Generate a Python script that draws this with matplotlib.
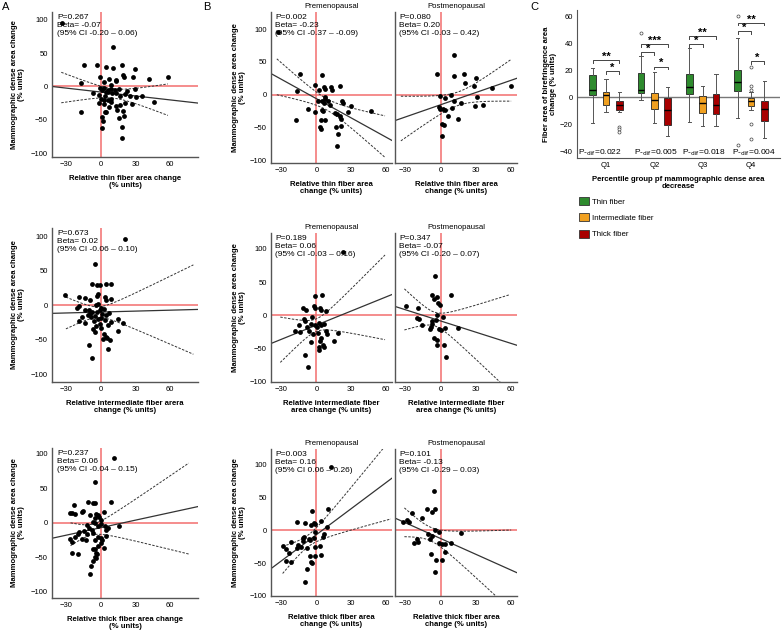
import numpy as np
import matplotlib
matplotlib.use('Agg')
import matplotlib.pyplot as plt
from matplotlib.patches import Patch

plt.rcParams['font.family'] = ['Liberation Sans', 'DejaVu Sans']

# ---- panel A : all women (x, y)
a_thin = [(-33, 96), (-14.3, 32), (-2.9, 32), (4.3, 30), (10.9, 28), (18.6, 32), (30, 26), (11, 60),
          (19, 18), (20, 14), (7, 12), (12.9, 10), (13.4, 8), (-0.6, 15), (2.9, 7), (28, 14), (42, 11),
          (58, 14), (-16.6, 6), (-7, -10), (1.4, -6), (6.6, -5), (8.6, 1.5), (6.3, -9), (10, -10),
          (12.9, -10), (17, -14), (21.4, -11), (25.7, -15), (30, -3.5), (30.9, -16), (35.7, -14),
          (46.3, -24), (-1.4, -13), (0, -19), (2.9, -20), (6.3, -21), (8.6, -19), (-1.4, -25),
          (2.9, -26), (8.6, -24), (13.4, -29), (17, -28), (21.4, -25), (27, -26), (-17, -38), (7, -31),
          (3.4, -39), (14.3, -36), (19, -37), (20, -45), (1.4, -46), (2.3, -52), (4.3, -39), (15.7, -48),
          (18, -61), (0.9, -63), (18, -78), (3, -3), (5, -8), (9, -4), (4, -15), (-1, -3), (12, -6),
          (16, -4), (23, -7)]
a_inter = [(20.9, 95.6), (-5.2, 60.4), (-7.5, 31.4), (-2.9, 29), (-0.9, 30), (4.9, 31.4), (8.7, 31.4),
           (-2.6, 17), (-2.9, 13.5), (3.5, 12), (4.3, 8.2), (9.3, 9.7), (-30.7, 14.5), (-18.8, 12),
           (-13.9, 10.6), (-9.6, 7.2), (-20.6, -3.4), (-18.3, -1), (-13.3, -6.3), (-10.1, -7.2),
           (-7.2, -9.7), (-4.3, 0), (-2.3, 1.4), (-0.9, -6.3), (2.9, -4.8), (7.2, -11.1), (-15.9, -16.9),
           (-11, -14.5), (-8.1, -16.9), (-5.2, -15.9), (-2.3, -20.3), (0.6, -17.9), (3.5, -21.7),
           (9.3, -24.2), (15.1, -19.3), (19.4, -25.6), (-18.8, -23.2), (-13.9, -25.6), (-6.7, -33.8),
           (-5.2, -38.6), (-0.3, -27.5), (0.6, -32.4), (2.9, -41), (2, -48.3), (4.3, -45.9), (5.5, -46.9),
           (7.8, -50.7), (15.1, -37.7), (6.4, -62.8), (-10.1, -58), (-7.5, -76.3), (-3, -10), (1, -12),
           (5, -14), (-6, -22), (0, -4), (-9, -13), (6, -28), (-4, -30)]
a_thick = [(11.6, 93), (-5, 58.3), (9.3, 30.3), (-10.8, 30.3), (-6.5, 28.9), (-4.5, 27.9), (-22.8, 25.5),
           (-26.6, 14.5), (-24.6, 13.5), (-22.3, 12), (-16.5, 15), (-15.1, 17.3), (-9.3, 11.1), (-3.6, 12),
           (-2.2, 11.1), (-5, 6.3), (-1.3, 7.7), (3, 15), (0.7, 3.9), (-7, 1.4), (-5, -1), (-11.4, -3.4),
           (-9.9, -8.2), (-7.9, -10.6), (-2.7, -4.8), (0.1, -2.4), (3.6, -4.8), (5, -10.6), (6.5, -8.2),
           (15.9, -4.3), (-18.8, -14), (-19.4, -16.4), (-22.3, -21.2), (-14.2, -11.6), (-11.4, -16.4),
           (-7, -14.5), (-2.2, -20.2), (0.1, -21.7), (1.3, -25), (5, -19.3), (-26.6, -23.6),
           (-25.1, -27.5), (-16.5, -24), (-12.8, -25), (-5, -25), (-2.2, -33.7), (0.7, -29.9),
           (3, -37.1), (-24.6, -43.4), (-19.9, -45.8), (-7, -38.5), (-5, -38.5), (-4.2, -43.4),
           (-3, -45.8), (-5, -49.1), (-3.6, -51.5), (-7, -55.4), (-8.5, -62.6), (-9.3, -74.6)]

# ---- panel B : premenopausal / postmenopausal
b_thin_pre = [(-33.2, 95.4), (-14.1, 31.6), (-16.9, 6.1), (-17.7, -38), (-7, -21.4), (-1.4, -27),
              (-0.8, 15.3), (2.5, 7.7), (4.8, 29.6), (6.8, 11.7), (7.6, 9.2), (1.4, -10), (4.8, -10),
              (6.2, -12.8), (7, -3.6), (7.6, -6), (4.8, -23), (5.6, -25.5), (4.2, -39), (7.6, -38),
              (2.8, -48.5), (3.9, -52.6), (9.9, -10), (11.8, -16.3), (12.7, 11.2), (13.2, 7.7),
              (20.3, 13.8), (21.7, -9.2), (22.5, -12.8), (30.1, -17.9), (27.3, -26.5), (47, -24.5),
              (16, -28), (18, -29.6), (20.3, -33), (20.8, -36.7), (16.9, -48.5), (21.1, -47),
              (18.3, -60), (17.5, -78)]
b_thin_post = [(-2.9, 31.6), (-0.6, -2.6), (-1.4, -19.4), (-0.6, -21.4), (2.3, -21.4), (3.8, -23),
               (3.8, -5), (5.8, -33), (0.9, -45), (2.9, -46), (0.9, -62.8), (8.7, 0), (9.6, -20.4),
               (11.6, -9.2), (11, 60), (11, 28), (14.5, -36.7), (17.4, -12.8), (19.7, 31.6), (20.3, 17.9),
               (28.1, 13.8), (29, -17.9), (30.4, 25.5), (31.3, -4), (36.2, -15.3), (44, 10.2), (60.3, 13.8)]
b_inter_pre = [(22.7, 94.7), (-0.9, 29.2), (4.8, 31.2), (-2.3, 13.6), (-1.4, 11.6), (-11.6, 11.6),
               (-8.5, 8.6), (3.4, 11.1), (4, 8.6), (8.5, 6), (-3.7, -2.5), (-10.8, -5), (-9.9, -8.6),
               (-15, -14), (-18.5, -24), (-14.2, -25), (-8, -16.6), (-6.5, -24), (-4.3, -12.6),
               (-0.9, -13.6), (0.6, -17.6), (2.6, -11.6), (4, -15), (6.8, -12.6), (8.5, -23.7),
               (9.1, -27.7), (-2.8, -27.7), (1.4, -26.7), (4, -34), (2.8, -37.8), (5.7, -45), (6.8, -47.9),
               (2, -47.9), (2, -52), (-5, -40), (-9.9, -59), (-7.4, -77), (14.8, -37.8), (19, -26.2)]
b_inter_post = [(-4.9, 59.4), (-7.1, 31.2), (-5.7, 25.2), (-2.9, 27.7), (-2, 18.6), (-0.9, 15.1),
                (8.6, 31.2), (-30, 13.6), (-19.1, 11.1), (-20, -3.5), (-18.6, -5), (-15.7, -15),
                (-7.7, -12.6), (-8.6, -17.6), (-9.1, -20), (-7.1, -8.6), (-5.7, -33.8), (-3.4, -36.3),
                (-2.9, -45), (-1.4, -20), (0, -21.7), (-2.9, 0), (2.3, -2.5), (3.4, -19), (2.9, -45),
                (4.9, -62), (14.3, -19), (-3.7, -6.5)]
b_thick_pre = [(12.8, 95), (-3.7, 29.3), (9.7, 31.3), (-16.5, 12.6), (-9.9, 10.1), (-2.3, 11.1),
               (-1.4, 9.1), (-4.3, 7.6), (4, 14.1), (9.1, 5), (-0.9, -2.5), (6.3, -6), (5.7, -11.1),
               (-10.8, -10.1), (-11.4, -12.6), (-11.4, -16.7), (-6.5, -14.1), (-5.1, -15.2), (-1.7, -12.6),
               (-22.2, -17.7), (-15.9, -22.7), (-17, -26.8), (-12.8, -26.3), (-28.4, -24.2), (-26.4, -29.3),
               (-23.6, -35.4), (-26.4, -46.5), (-21.6, -49), (-8, -27.8), (-0.9, -26.3), (2.8, -24.2),
               (-5.1, -38.9), (-1.4, -38.9), (4, -37.9), (-4.3, -48), (-3.7, -50.5), (-8, -59), (-9.9, -78.3)]
b_thick_post = [(-5.8, 59.6), (-5.2, 31.3), (-11.5, 31.3), (-7.8, 27.8), (-16.4, 17.7), (-32.6, 12.6),
                (-28.8, 15.2), (-27.4, 12.6), (-24.5, 26.3), (-20.2, -14.1), (-19.3, -17.7), (-23.1, -20.2),
                (-10.7, -6), (-7.2, -9.1), (-9.5, -14.1), (-5.2, 0), (-1.4, -2.5), (-1.4, -19.2),
                (1.4, -21.2), (3.7, -21.2), (8.6, -20.2), (3.5, -32.8), (-8.6, -36.4), (-3.7, -45.5),
                (1.4, -45.5), (-4.9, -63.1), (17.3, -5)]

# regression lines: (intercept, slope)
fit_a = [(-8.3, -0.198), (-9.7, 0.045), (-7.3, 0.364)]
fit_pre = [(-6, -0.98), (-14.5, 0.708), (-7, 1.32)]
fit_post = [(-15.2, 0.62), (-8.3, -0.562), (-12.9, -0.797)]

stats_a = [("0.267", "-0.07", "-0.20 – 0.06"), ("0.673", "0.02", "-0.06 – 0.10"), ("0.237", "0.06", "-0.04 – 0.15")]
stats_pre = [("0.002", "-0.23", "-0.37 – -0.09"), ("0.189", "0.06", "-0.03 – 0.16"), ("0.003", "0.16", "0.06 – 0.26")]
stats_post = [("0.080", "0.20", "-0.03 – 0.42"), ("0.347", "-0.07", "-0.20 – 0.07"), ("0.101", "-0.13", "-0.29 – 0.03")]

# ---- panel C : box summaries (whislo, q1, med, q3, whishi) per quartile group
quartiles = ['Q1', 'Q2', 'Q3', 'Q4']
series = ['Thin fiber', 'Intermediate fiber', 'Thick fiber']
box_thin = [(-19, 1.75, 5.5, 17, 21.75), (-2, 3, 5.5, 18.5, 31), (-18.25, 2.5, 7.5, 17.25, 36.75),
            (-15, 4.75, 11.75, 20.5, 44.25)]
box_inter = [(-10.75, -5.5, 1.75, 4, 14), (-19, -8.75, -2, 3, 19.25), (-21.25, -11.5, -4, 1.25, 8.5),
             (-9.5, -6.25, -2.5, -0.75, 4.25)]
box_thick = [(-10.75, -9.5, -5.25, -2.75, 4), (-29, -20.25, -9.5, -0.75, 7.5), (-21.25, -12, -5.25, 2.25, 17.25),
             (-30, -17.75, -8.25, -2.75, 12.5)]
fliers_thin = [[], [48], [], [60.5, -35]]
fliers_inter = [[], [], [], [22.5, 8.5, 5.5, -19.5, -30.75]]
fliers_thick = [[-22, -23.75, -25.75], [], [], []]
p_dif = ['0.022', '0.005', '0.018', '0.004']
# significance brackets: (quartile, from series, to series, level, stars)
brackets = [(0, 0, 2, 27.5, '**'), (0, 1, 2, 19.75, '*'), (1, 0, 2, 39.75, '***'), (1, 0, 1, 33.75, '*'),
            (1, 1, 2, 23, '*'), (2, 0, 2, 45.5, '**'), (2, 0, 1, 39.75, '*'), (3, 0, 2, 55.5, '**'),
            (3, 0, 1, 49.25, '*'), (3, 1, 2, 26.75, '*')]

colors = ['#2e8b2e', '#f0a020', '#a80000']
red = '#f26d6d'

W, H = 782, 630
fig = plt.figure(figsize=(W / 100, H / 100), dpi=100)


def rect(l, t, r, b):
    return [l / W, 1 - b / H, (r - l) / W, (b - t) / H]


def band(x, y, a, b, xs):
    n = len(x)
    xm = x.mean()
    sxx = ((x - xm) ** 2).sum()
    s = np.sqrt(((y - (a + b * x)) ** 2).sum() / (n - 2))
    half = 1.99 * s * np.sqrt(1 / n + (xs - xm) ** 2 / sxx)
    return a + b * xs - half, a + b * xs + half


def scatter_panel(ax, pts, fit, ci_x, st, xlim, ylim, show_y=True):
    x = np.array([p[0] for p in pts])
    y = np.array([p[1] for p in pts])
    ax.axvline(0, color=red, lw=1.1, zorder=1)
    ax.axhline(0, color=red, lw=1.1, zorder=1)
    xs = np.linspace(xlim[0], xlim[1], 200)
    ax.plot(xs, fit[0] + fit[1] * xs, color='#333333', lw=0.9, zorder=2)
    xc = np.linspace(ci_x[0], ci_x[1], 200)
    lo, hi = band(x, y, fit[0], fit[1], xc)
    for c in (lo, hi):
        ax.plot(xc, c, color='#333333', lw=0.7, ls=(0, (2.5, 1.5)), zorder=2)
    ax.scatter(x, y, s=12, c='black', linewidths=0, zorder=3)
    ax.text(0.035, 0.985, "P=%s\nBeta= %s\n(95%% CI %s)" % st, transform=ax.transAxes,
            va='top', ha='left', fontsize=6, linespacing=1.2, zorder=4)
    ax.set_xlim(xlim)
    ax.set_ylim(ylim)
    ax.set_xticks([-30, 0, 30, 60])
    ax.set_yticks([-100, -50, 0, 50, 100])
    ax.tick_params(length=0, labelsize=5.5, pad=3)
    if not show_y:
        ax.set_yticklabels([])
    for s in ['top', 'right']:
        ax.spines[s].set_visible(False)
    for s in ['left', 'bottom']:
        ax.spines[s].set_color('#555555')
        ax.spines[s].set_linewidth(1)


ylab = 'Mammographic dense area change\n(% units)'
lab_font = dict(fontsize=5.6, fontweight='bold', linespacing=1.0)

# panel A
a_rows = [(12, 157), (228, 382), (448, 598)]
a_ylims = [(-106, 112), (-111, 112), (-109, 108)]
a_ci = [(-34, 58), (-30, 80), (-26, 76)]
a_data = [a_thin, a_inter, a_thick]
a_xlab = ['Relative thin fiber area change\n(% units)', 'Relative intermediate fiber arera\nchange (% units)',
          'Relative thick fiber area change\n(% units)']
for i in range(3):
    ax = fig.add_axes(rect(52, a_rows[i][0], 198, a_rows[i][1]))
    scatter_panel(ax, a_data[i], fit_a[i], a_ci[i], stats_a[i], (-42, 84), a_ylims[i])
    ax.set_xlabel(a_xlab[i], labelpad=5, **lab_font)
    ax.set_ylabel(ylab, labelpad=4, **lab_font)

# panel B
b_rows = [(12, 163), (233, 382), (449, 596)]
b_ylims = [(-104, 126), (-100, 124), (-100, 123)]
pre_ci = [(-34, 59), (-31, 59), (-29, 64)]
post_ci = [(-34, 60), (-31, 59), (-31, 60)]
pre_data = [b_thin_pre, b_inter_pre, b_thick_pre]
post_data = [b_thin_post, b_inter_post, b_thick_post]
b_xlab = ['Relative thin fiber area\nchange (% units)', 'Relative intermediate fiber\narea change (% units)',
          'Relative thick fiber area\nchange (% units)']
for i in range(3):
    ax1 = fig.add_axes(rect(271, b_rows[i][0], 392, b_rows[i][1]))
    scatter_panel(ax1, pre_data[i], fit_pre[i], pre_ci[i], stats_pre[i], (-39, 65), b_ylims[i])
    ax1.set_title('Premenopausal', fontsize=5.6, pad=3)
    ax1.set_xlabel(b_xlab[i], labelpad=5, **lab_font)
    ax1.set_ylabel(ylab, labelpad=3, **lab_font)
    ax2 = fig.add_axes(rect(395, b_rows[i][0], 517, b_rows[i][1]))
    scatter_panel(ax2, post_data[i], fit_post[i], post_ci[i], stats_post[i], (-39, 65), b_ylims[i],
                  show_y=False)
    ax2.set_title('Postmenopausal', fontsize=5.6, pad=3)
    ax2.set_xlabel(b_xlab[i], labelpad=5, **lab_font)

# panel C
axc = fig.add_axes(rect(577, 10, 780, 158))
offsets = [-0.275, 0, 0.275]
axc.axhline(0, color='#777777', lw=1, zorder=1)
for k, (boxes, fl) in enumerate([(box_thin, fliers_thin), (box_inter, fliers_inter), (box_thick, fliers_thick)]):
    st = []
    for q in range(4):
        lo, q1, med, q3, hi = boxes[q]
        st.append(dict(whislo=lo, q1=q1, med=med, q3=q3, whishi=hi, fliers=fl[q]))
    pos = [q + 1 + offsets[k] for q in range(4)]
    axc.bxp(st, positions=pos, widths=0.14, capwidths=0.07, patch_artist=True, manage_ticks=False,
            boxprops=dict(facecolor=colors[k], edgecolor='#222222', linewidth=0.6),
            medianprops=dict(color='black', linewidth=1),
            whiskerprops=dict(color='#555555', linewidth=0.7),
            capprops=dict(color='#555555', linewidth=0.7),
            flierprops=dict(marker='o', markersize=2.2, markerfacecolor='white',
                            markeredgecolor='#444444', markeredgewidth=0.5))
for q, i, j, lev, lab in brackets:
    x1 = q + 1 + offsets[i]
    x2 = q + 1 + offsets[j]
    axc.plot([x1, x1, x2, x2], [lev - 2, lev, lev, lev - 2], color='#444444', lw=0.7)
    axc.text((x1 + x2) / 2, lev - 1.2, lab, ha='center', va='bottom', fontsize=8, fontweight='bold')
p_x = [0.42, 1.58, 2.57, 3.6]
for q in range(4):
    axc.text(p_x[q], -41, r'P-$_{\mathrm{dif}}$=' + p_dif[q], fontsize=6, va='center', ha='left')
axc.set_xlim(0.4, 4.6)
axc.set_ylim(-45, 65)
axc.set_xticks([1, 2, 3, 4])
axc.set_xticklabels(quartiles)
axc.set_yticks([-40, -20, 0, 20, 40, 60])
axc.tick_params(length=0, labelsize=5.5, pad=3)
for s in ['top', 'right']:
    axc.spines[s].set_visible(False)
for s in ['left', 'bottom']:
    axc.spines[s].set_color('#555555')
axc.set_xlabel('Percentile group pf mammographic dense area\ndecrease', labelpad=5, **lab_font)
axc.set_ylabel('Fiber area of birefringence area\nchange (% units)', labelpad=2, **lab_font)

handles = [Patch(facecolor=c, edgecolor='#333333', linewidth=0.6) for c in colors]
fig.legend(handles, series, loc='upper left', bbox_to_anchor=(572 / W, 1 - 190 / H), frameon=False,
           fontsize=5.7, handlelength=1.2, handleheight=1.2, labelspacing=0.95, handletextpad=0.4)

fig.text(2 / W, 1 - 2 / H, 'A', fontsize=8, va='top')
fig.text(203 / W, 1 - 2 / H, 'B', fontsize=8, va='top')
fig.text(530 / W, 1 - 2 / H, 'C', fontsize=8, va='top')

fig.savefig('out.png', dpi=100)
